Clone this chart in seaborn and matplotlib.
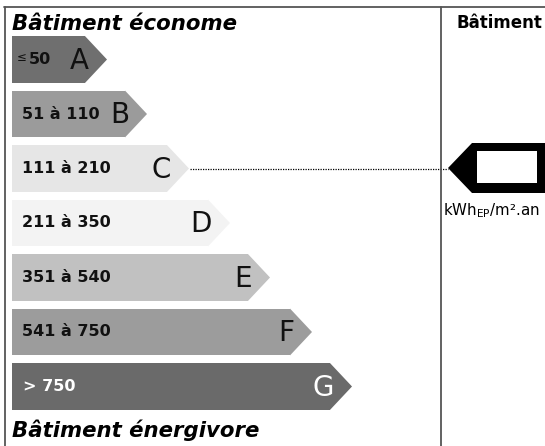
import numpy as np
import matplotlib
matplotlib.use('Agg')
import matplotlib.pyplot as plt
from matplotlib.patches import Polygon, Rectangle
import seaborn as sns

sns.set_style('white')
plt.rcParams['font.family'] = ['DejaVu Sans']
plt.rcParams['text.color'] = 'black'

# energy classes, top (economical) to bottom (energy hungry)
grades = ['A', 'B', 'C', 'D', 'E', 'F', 'G']
ranges = ['50', '51 à 110', '111 à 210', '211 à 350', '351 à 540', '541 à 750', '> 750']
lengths = [73, 113, 155, 196, 236, 278, 318]
colors = ['#6f6f6f', '#9b9b9b', '#e6e6e6', '#f3f3f3', '#c1c1c1', '#9c9c9c', '#6a6a6a']
text_colors = ['#111111', '#111111', '#111111', '#111111', '#111111', '#111111', '#ffffff']
current = 'C'

W, H = 545, 446
fig = plt.figure(figsize=(W / 100, H / 100), dpi=100)
ax = fig.add_axes([0, 0, 1, 1])

sns.barplot(x=lengths, y=grades, hue=grades, palette=colors, orient='h',
            width=0.86, saturation=1, legend=False, linewidth=0, ax=ax)
ax.set_xlim(-12, W - 12)
ax.set_ylim(7.092, -1.092)
ax.axis('off')

tip = 22
half = 0.43
for i, (g, L, c) in enumerate(zip(grades, lengths, colors)):
    ax.add_patch(Polygon([(L, i - half), (L + tip, i), (L, i + half)],
                         closed=True, facecolor=c, edgecolor='none'))
    tc = text_colors[i]
    ax.text(L + 4, i + 0.02, g, ha='right', va='center', fontsize=20, color=tc)
    if i == 0:
        ax.text(5, i - 0.03, '≤', ha='left', va='center', fontsize=8.5, color=tc)
        ax.text(17, i, ranges[i], ha='left', va='center', fontsize=11.5,
                fontweight='bold', color=tc)
    else:
        ax.text(10 if i < 6 else 11, i, ranges[i], ha='left', va='center',
                fontsize=11.5, fontweight='bold', color=tc)

# dotted leader from the current class to the indicator
ci = grades.index(current)
ax.plot([lengths[ci] + tip + 1, 436], [ci, ci], color='black', lw=0.9,
        dashes=(1, 1))

# overlay in pixel units for frame, titles and indicator
ov = fig.add_axes([0, 0, 1, 1])
ov.set_xlim(0, W)
ov.set_ylim(H, 0)
ov.axis('off')

frame = dict(color='#555555', lw=1.3)
ov.plot([4.5, 4.5], [7, H], **frame)
ov.plot([4, W], [7, 7], **frame)
ov.plot([441, 441], [7, H], **frame)

ov.text(12, 30, 'Bâtiment économe', fontsize=15.3, fontweight='bold',
        fontstyle='italic', va='baseline', ha='left')
ov.text(12, 437, 'Bâtiment énergivore', fontsize=15.3, fontweight='bold',
        fontstyle='italic', va='baseline', ha='left')
ov.text(457, 28, 'Bâtiment', fontsize=12, fontweight='bold', va='baseline',
        ha='left')

ov.add_patch(Polygon([(448, 168), (472, 143), (560, 143), (560, 193), (472, 193)],
                     closed=True, facecolor='black', edgecolor='none'))
ov.add_patch(Rectangle((477, 151), 60, 32, facecolor='white', edgecolor='none'))
ov.text(443, 215, 'kWh$_{\\mathregular{EP}}$/m².an', fontsize=10.8,
        va='baseline', ha='left')

fig.savefig('out.png', dpi=100)
